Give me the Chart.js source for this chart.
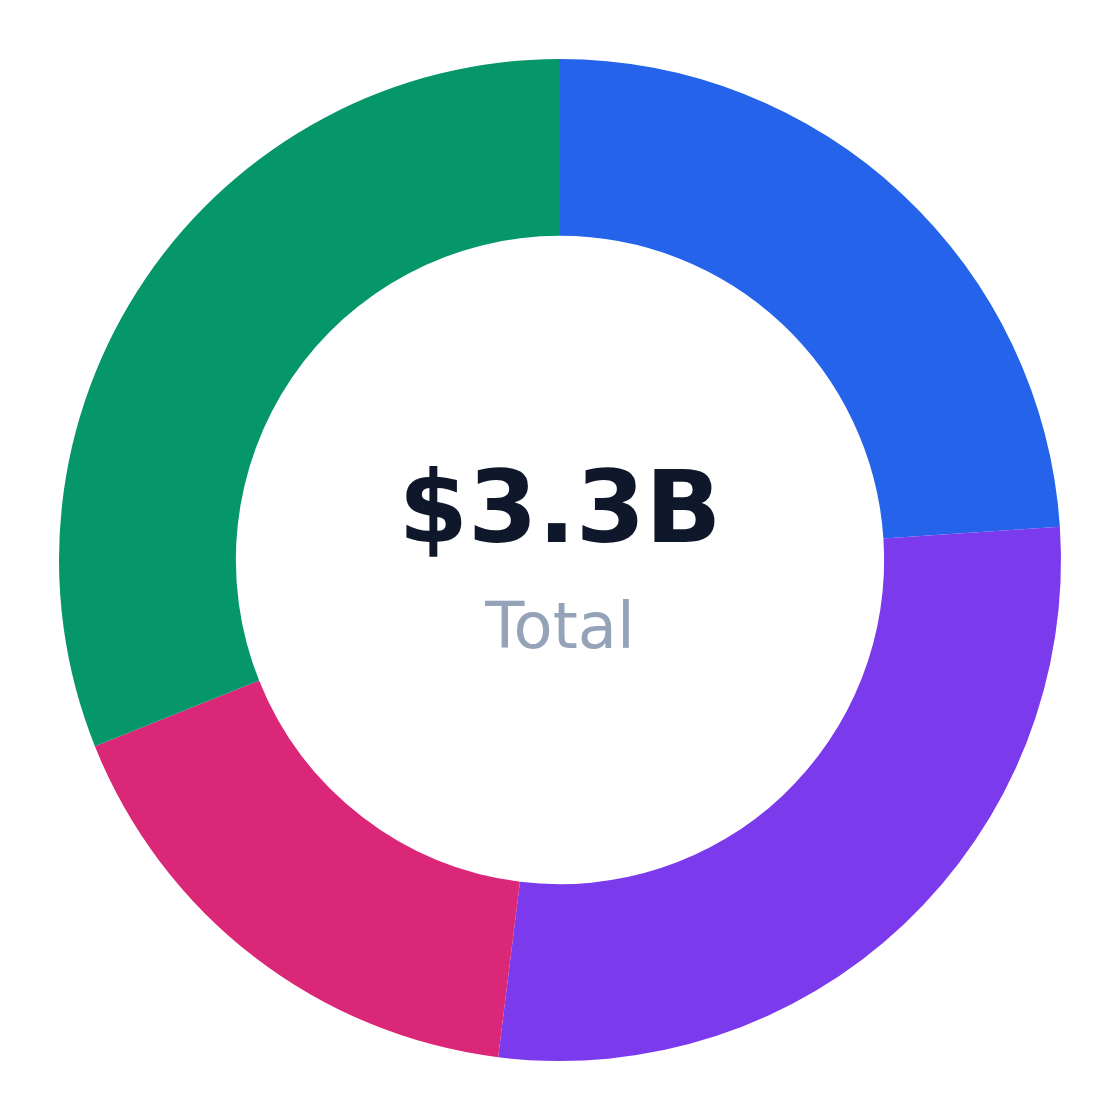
<!DOCTYPE html>
<html>
<head>
<meta charset="utf-8">
<script src="https://cdn.jsdelivr.net/npm/chart.js@4.4.0/dist/chart.umd.min.js"></script>
<style>
    html, body { margin: 0; padding: 0; background: #ffffff; }
    #wrap { width: 1120px; height: 1120px; }
</style>
</head>
<body>
<div id="wrap"><canvas id="donutChart"></canvas></div>
<script>
// Segment values (millions USD), clockwise from top
const labels = ['Segment A', 'Segment B', 'Segment C', 'Segment D'];
const values = [790, 925, 560, 1025];
const colors = ['#2563eb', '#7c3aed', '#db2777', '#059669'];
const centerValue = '$3.3B';
const centerLabel = 'Total';

const centerText = {
    id: 'centerText',
    afterDraw(chart) {
        const { ctx } = chart;
        const meta = chart.getDatasetMeta(0).data[0];
        const cx = meta.x, cy = meta.y;
        ctx.save();
        ctx.textAlign = 'center';
        ctx.textBaseline = 'alphabetic';
        ctx.fillStyle = '#0f172a';
        ctx.font = 'bold 100px "DejaVu Sans"';
        ctx.fillText(centerValue, cx, cy - 18);
        ctx.fillStyle = '#94a3b8';
        ctx.font = '64px "DejaVu Sans"';
        ctx.fillText(centerLabel, cx, cy + 88);
        ctx.restore();
    }
};

new Chart(document.getElementById('donutChart'), {
    type: 'doughnut',
    data: {
        labels: labels,
        datasets: [{
            data: values,
            backgroundColor: colors,
            borderWidth: 0
        }]
    },
    options: {
        responsive: true,
        maintainAspectRatio: false,
        animation: false,
        cutout: '64.7%',
        layout: { padding: 59 },
        plugins: {
            legend: { display: false },
            tooltip: { enabled: false }
        }
    },
    plugins: [centerText]
});
</script>
</body>
</html>
